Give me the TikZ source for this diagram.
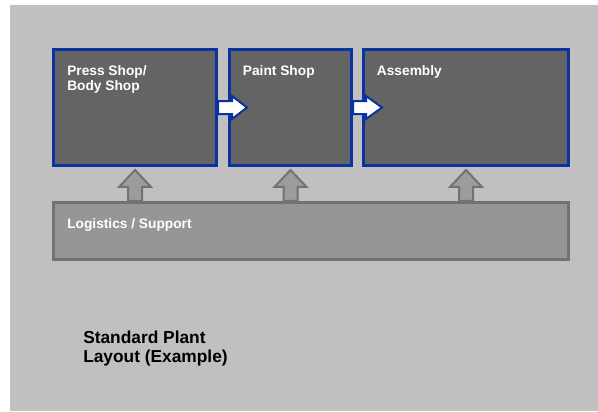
\documentclass[tikz,border=0pt]{standalone}
\usepackage{fontspec}
\setmainfont{Liberation Sans}
\usetikzlibrary{positioning}
\definecolor{bggray}{HTML}{C0C0C0}
\definecolor{shopfill}{HTML}{646464}
\definecolor{shopblue}{HTML}{0A32A0}
\definecolor{supportfill}{HTML}{969696}
\definecolor{supportline}{HTML}{727272}
\definecolor{uparrowfill}{HTML}{9C9C9C}
\begin{document}
\begin{tikzpicture}[
  x=0.75pt, y=-0.75pt,
  shopbox/.style={rectangle, draw=shopblue, fill=shopfill, line width=2.25pt, minimum height=87pt, inner sep=0pt},
  supportbox/.style={rectangle, draw=supportline, fill=supportfill, line width=2.25pt, inner sep=0pt},
  boxlabel/.style={text=white, font=\bfseries\fontsize{10.3}{11.3}\selectfont, align=left, inner sep=0pt},
  titlelabel/.style={text=black, font=\bfseries\fontsize{13}{14.25}\selectfont, align=left, inner sep=0pt},
  flowarrow/.style={draw=shopblue, fill=white, line width=1.5pt, line join=miter},
  supportarrow/.style={draw=supportline, fill=uparrowfill, line width=1.5pt, line join=miter}
]
  \useasboundingbox (0,0) rectangle (598,411);
  \fill[bggray] (10,5) rectangle (598,411);

  % shops
  \node[shopbox, minimum width=122.25pt] (press)    at (135,107.5) {};
  \node[shopbox, minimum width=91.5pt]   (paint)    at (290.5,107.5) {};
  \node[shopbox, minimum width=153.75pt] (assembly) at (466,107.5) {};
  \node[supportbox, minimum width=386.25pt, minimum height=42.4pt] (support) at (311,230.75) {};

  % labels
  \node[boxlabel, below right=12.75pt and 11.25pt of press.north west]    (presslabel)    {Press Shop/\\Body Shop};
  \node[boxlabel, below right=13.25pt and 11pt of paint.north west]       (paintlabel)    {Paint Shop};
  \node[boxlabel, below right=13.25pt and 11pt of assembly.north west]    (assemblylabel) {Assembly};
  \node[boxlabel, below right=12.75pt and 11.25pt of support.north west]  (supportlabel)  {Logistics / Support};
  \node[titlelabel, anchor=north west] (title) at (83,331) {Standard Plant\\Layout (Example)};

  % flow between shops
  \draw[flowarrow] (press.east) ++(0,-6.5) -- ++(14,0) -- ++(0,-5) -- ++(15,11.5)
    -- ++(-15,11.5) -- ++(0,-5) -- ++(-14,0) -- cycle;
  \draw[flowarrow] (paint.east) ++(0,-6.5) -- ++(13,0) -- ++(0,-5) -- ++(16,11.5)
    -- ++(-16,11.5) -- ++(0,-5) -- ++(-13,0) -- cycle;

  % support arrows
  \draw[supportarrow] (press.south |- support.north) ++(-7,0) -- ++(0,-14) -- ++(-9,0)
    -- ++(16,-17) -- ++(16,17) -- ++(-9,0) -- ++(0,14) -- cycle;
  \draw[supportarrow] (paint.south |- support.north) ++(-7,0) -- ++(0,-14) -- ++(-9,0)
    -- ++(16,-17) -- ++(16,17) -- ++(-9,0) -- ++(0,14) -- cycle;
  \draw[supportarrow] (assembly.south |- support.north) ++(-7,0) -- ++(0,-14) -- ++(-9,0)
    -- ++(16,-17) -- ++(16,17) -- ++(-9,0) -- ++(0,14) -- cycle;
\end{tikzpicture}
\end{document}
